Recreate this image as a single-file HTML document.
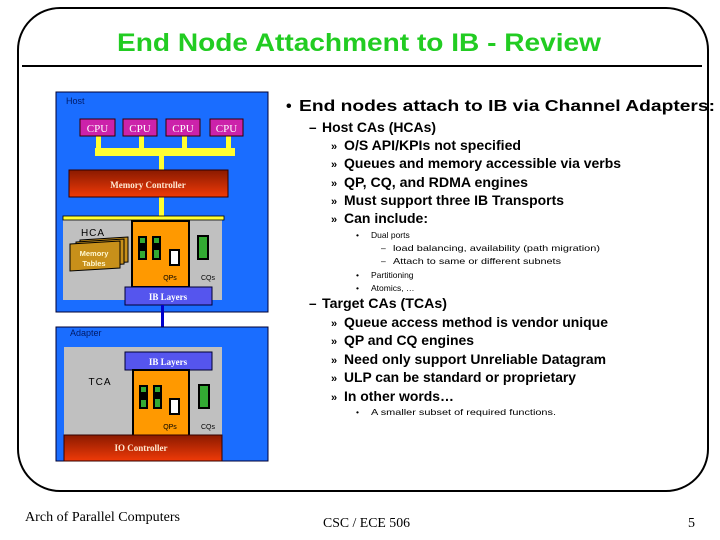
<!DOCTYPE html>
<html><head><meta charset="utf-8"><style>
html,body{margin:0;padding:0;background:#fff;}
svg{display:block;}
</style></head><body>
<svg width="720" height="540" viewBox="0 0 720 540" xmlns="http://www.w3.org/2000/svg" font-family="Liberation Sans, Arial, sans-serif">
<defs>
<linearGradient id="red" x1="0" y1="0" x2="0" y2="1"><stop offset="0" stop-color="#8a1a00"/><stop offset="1" stop-color="#f03a08"/></linearGradient>
</defs>
<!-- frame -->
<rect x="18" y="8" width="690" height="483" rx="42" ry="42" fill="none" stroke="#000" stroke-width="2"/>
<line x1="22" y1="66" x2="702" y2="66" stroke="#000" stroke-width="2"/>
<text x="359" y="51" text-anchor="middle" font-size="25" font-weight="bold" fill="#22cc22" textLength="484" lengthAdjust="spacingAndGlyphs">End Node Attachment to IB - Review</text>

<!-- Host box -->
<rect x="56" y="92" width="212" height="220" fill="#1a6dff" stroke="#003" stroke-width="1"/>
<text x="66" y="104" font-size="9" fill="#001a66">Host</text>
<!-- bus -->
<rect x="95" y="148" width="140" height="8" fill="#ffff33"/>
<rect x="96" y="136" width="5" height="14" fill="#ffff33"/>
<rect x="139" y="136" width="5" height="14" fill="#ffff33"/>
<rect x="182" y="136" width="5" height="14" fill="#ffff33"/>
<rect x="226" y="136" width="5" height="14" fill="#ffff33"/>
<rect x="159" y="154" width="5" height="18" fill="#ffff33"/>
<rect x="159" y="196" width="5" height="22" fill="#ffff33"/>
<!-- CPUs -->
<g font-family="Liberation Serif, serif" font-size="11" fill="#fff" text-anchor="middle">
<rect x="80" y="119" width="35" height="17" fill="#cc22aa" stroke="#300" stroke-width="1"/><text x="97.5" y="132">CPU</text>
<rect x="123" y="119" width="34" height="17" fill="#cc22aa" stroke="#300" stroke-width="1"/><text x="140" y="132">CPU</text>
<rect x="166" y="119" width="34" height="17" fill="#cc22aa" stroke="#300" stroke-width="1"/><text x="183" y="132">CPU</text>
<rect x="210" y="119" width="33" height="17" fill="#cc22aa" stroke="#300" stroke-width="1"/><text x="226.5" y="132">CPU</text>
</g>
<rect x="69" y="170" width="159" height="27" fill="url(#red)" stroke="#300" stroke-width="1"/>
<text x="148" y="188" font-family="Liberation Serif, serif" font-size="9" font-weight="bold" fill="#ffe8d0" text-anchor="middle">Memory Controller</text>
<!-- HCA -->
<rect x="63" y="219" width="159" height="81" fill="#c0c0c0"/>
<rect x="63" y="216" width="161" height="4" fill="#ffff33" stroke="#000" stroke-width="0.8"/>
<text x="93" y="236" font-size="10" fill="#000" text-anchor="middle" letter-spacing="1">HCA</text>
<g stroke="#000" stroke-width="1" fill="#c8901a">
<polygon points="80,240 128,237 128,262 80,265"/>
<polygon points="76,242 124,239 124,264 76,267"/>
<polygon points="70,244 120,241 120,268 70,271"/>
</g>
<text x="94" y="256" font-size="7.5" font-weight="bold" fill="#fff8d0" text-anchor="middle">Memory</text>
<text x="94" y="266" font-size="7.5" font-weight="bold" fill="#fff8d0" text-anchor="middle">Tables</text>
<rect x="132" y="221" width="57" height="66" fill="#ff9900" stroke="#000" stroke-width="2"/>
<rect x="138" y="236" width="9" height="24" fill="#000"/><rect x="140" y="238" width="5" height="5" fill="#33aa33"/><rect x="140" y="251" width="5" height="7" fill="#33aa33"/>
<rect x="152" y="236" width="9" height="24" fill="#000"/><rect x="154" y="238" width="5" height="5" fill="#33aa33"/><rect x="154" y="250" width="5" height="8" fill="#33aa33"/>
<rect x="170" y="250" width="9" height="15" fill="#fff" stroke="#000" stroke-width="2"/>
<text x="170" y="280" font-size="7" fill="#000" text-anchor="middle">QPs</text>
<rect x="198" y="236" width="10" height="23" fill="#33aa33" stroke="#000" stroke-width="2"/>
<text x="208" y="280" font-size="7" fill="#000" text-anchor="middle">CQs</text>
<rect x="125" y="287" width="87" height="18" fill="#5555ee" stroke="#003" stroke-width="1"/>
<text x="168" y="300" font-family="Liberation Serif, serif" font-size="9" font-weight="bold" fill="#fff" text-anchor="middle">IB Layers</text>

<!-- link -->
<rect x="161" y="305" width="3" height="47" fill="#0000cc"/>

<!-- Adapter -->
<rect x="56" y="327" width="212" height="134" fill="#1a6dff" stroke="#003" stroke-width="1"/>
<text x="70" y="336" font-size="9" fill="#001a66">Adapter</text>
<rect x="64" y="347" width="158" height="88" fill="#c0c0c0"/>
<rect x="125" y="352" width="87" height="18" fill="#5555ee" stroke="#003" stroke-width="1"/>
<text x="168" y="365" font-family="Liberation Serif, serif" font-size="9" font-weight="bold" fill="#fff" text-anchor="middle">IB Layers</text>
<text x="100" y="385" font-size="10" fill="#000" text-anchor="middle" letter-spacing="1">TCA</text>
<rect x="133" y="370" width="56" height="66" fill="#ff9900" stroke="#000" stroke-width="2"/>
<rect x="139" y="385" width="9" height="24" fill="#000"/><rect x="141" y="387" width="5" height="5" fill="#33aa33"/><rect x="141" y="400" width="5" height="7" fill="#33aa33"/>
<rect x="153" y="385" width="9" height="24" fill="#000"/><rect x="155" y="387" width="5" height="5" fill="#33aa33"/><rect x="155" y="399" width="5" height="8" fill="#33aa33"/>
<rect x="170" y="399" width="9" height="15" fill="#fff" stroke="#000" stroke-width="2"/>
<text x="170" y="429" font-size="7" fill="#000" text-anchor="middle">QPs</text>
<rect x="199" y="385" width="10" height="23" fill="#33aa33" stroke="#000" stroke-width="2"/>
<text x="208" y="429" font-size="7" fill="#000" text-anchor="middle">CQs</text>
<rect x="64" y="435" width="158" height="26" fill="url(#red)" stroke="#300" stroke-width="1"/>
<text x="141" y="451" font-family="Liberation Serif, serif" font-size="9" font-weight="bold" fill="#ffe8d0" text-anchor="middle">IO Controller</text>

<!-- right text -->
<g fill="#000">
<text x="286" y="111" font-size="16" font-weight="bold">•</text>
<text x="299" y="111" font-size="16" font-weight="bold" textLength="416" lengthAdjust="spacingAndGlyphs">End nodes attach to IB via Channel Adapters:</text>
<g font-size="13.5" font-weight="bold">
<text x="309" y="132">–</text><text x="322" y="132" textLength="114" lengthAdjust="spacingAndGlyphs">Host CAs (HCAs)</text>
<text x="331" y="150" font-size="11">»</text><text x="344" y="150" textLength="177" lengthAdjust="spacingAndGlyphs">O/S API/KPIs not specified</text>
<text x="331" y="168" font-size="11">»</text><text x="344" y="168" textLength="277" lengthAdjust="spacingAndGlyphs">Queues and memory accessible via verbs</text>
<text x="331" y="187" font-size="11">»</text><text x="344" y="187" textLength="184" lengthAdjust="spacingAndGlyphs">QP, CQ, and RDMA engines</text>
<text x="331" y="205" font-size="11">»</text><text x="344" y="205" textLength="220" lengthAdjust="spacingAndGlyphs">Must support three IB Transports</text>
<text x="331" y="223" font-size="11">»</text><text x="344" y="223" textLength="84" lengthAdjust="spacingAndGlyphs">Can include:</text>
</g>
<g font-size="8.5">
<text x="356" y="238">•</text><text x="371" y="238">Dual ports</text>
<text x="381" y="251">–</text><text x="393" y="251" textLength="207" lengthAdjust="spacingAndGlyphs">load balancing, availability (path migration)</text>
<text x="381" y="264">–</text><text x="393" y="264" textLength="168" lengthAdjust="spacingAndGlyphs">Attach to same or different subnets</text>
<text x="356" y="278">•</text><text x="371" y="278">Partitioning</text>
<text x="356" y="291">•</text><text x="371" y="291">Atomics, …</text>
</g>
<g font-size="13.5" font-weight="bold">
<text x="309" y="308">–</text><text x="322" y="308" textLength="125" lengthAdjust="spacingAndGlyphs">Target CAs (TCAs)</text>
<text x="331" y="327" font-size="11">»</text><text x="344" y="327" textLength="264" lengthAdjust="spacingAndGlyphs">Queue access method is vendor unique</text>
<text x="331" y="345" font-size="11">»</text><text x="344" y="345" textLength="130" lengthAdjust="spacingAndGlyphs">QP and CQ engines</text>
<text x="331" y="364" font-size="11">»</text><text x="344" y="364" textLength="262" lengthAdjust="spacingAndGlyphs">Need only support Unreliable Datagram</text>
<text x="331" y="382" font-size="11">»</text><text x="344" y="382" textLength="232" lengthAdjust="spacingAndGlyphs">ULP can be standard or proprietary</text>
<text x="331" y="401" font-size="11">»</text><text x="344" y="401" textLength="110" lengthAdjust="spacingAndGlyphs">In other words…</text>
</g>
<text x="356" y="415" font-size="8.5">•</text><text x="371" y="415" font-size="8.5" textLength="185" lengthAdjust="spacingAndGlyphs">A smaller subset of required functions.</text>
</g>

<!-- footer -->
<g font-family="Liberation Serif, serif" font-size="14" fill="#000">
<text x="25" y="521" textLength="155" lengthAdjust="spacingAndGlyphs">Arch of Parallel Computers</text>
<text x="323" y="527" textLength="87" lengthAdjust="spacingAndGlyphs">CSC / ECE 506</text>
<text x="688" y="527">5</text>
</g>
</svg>
</body></html>
